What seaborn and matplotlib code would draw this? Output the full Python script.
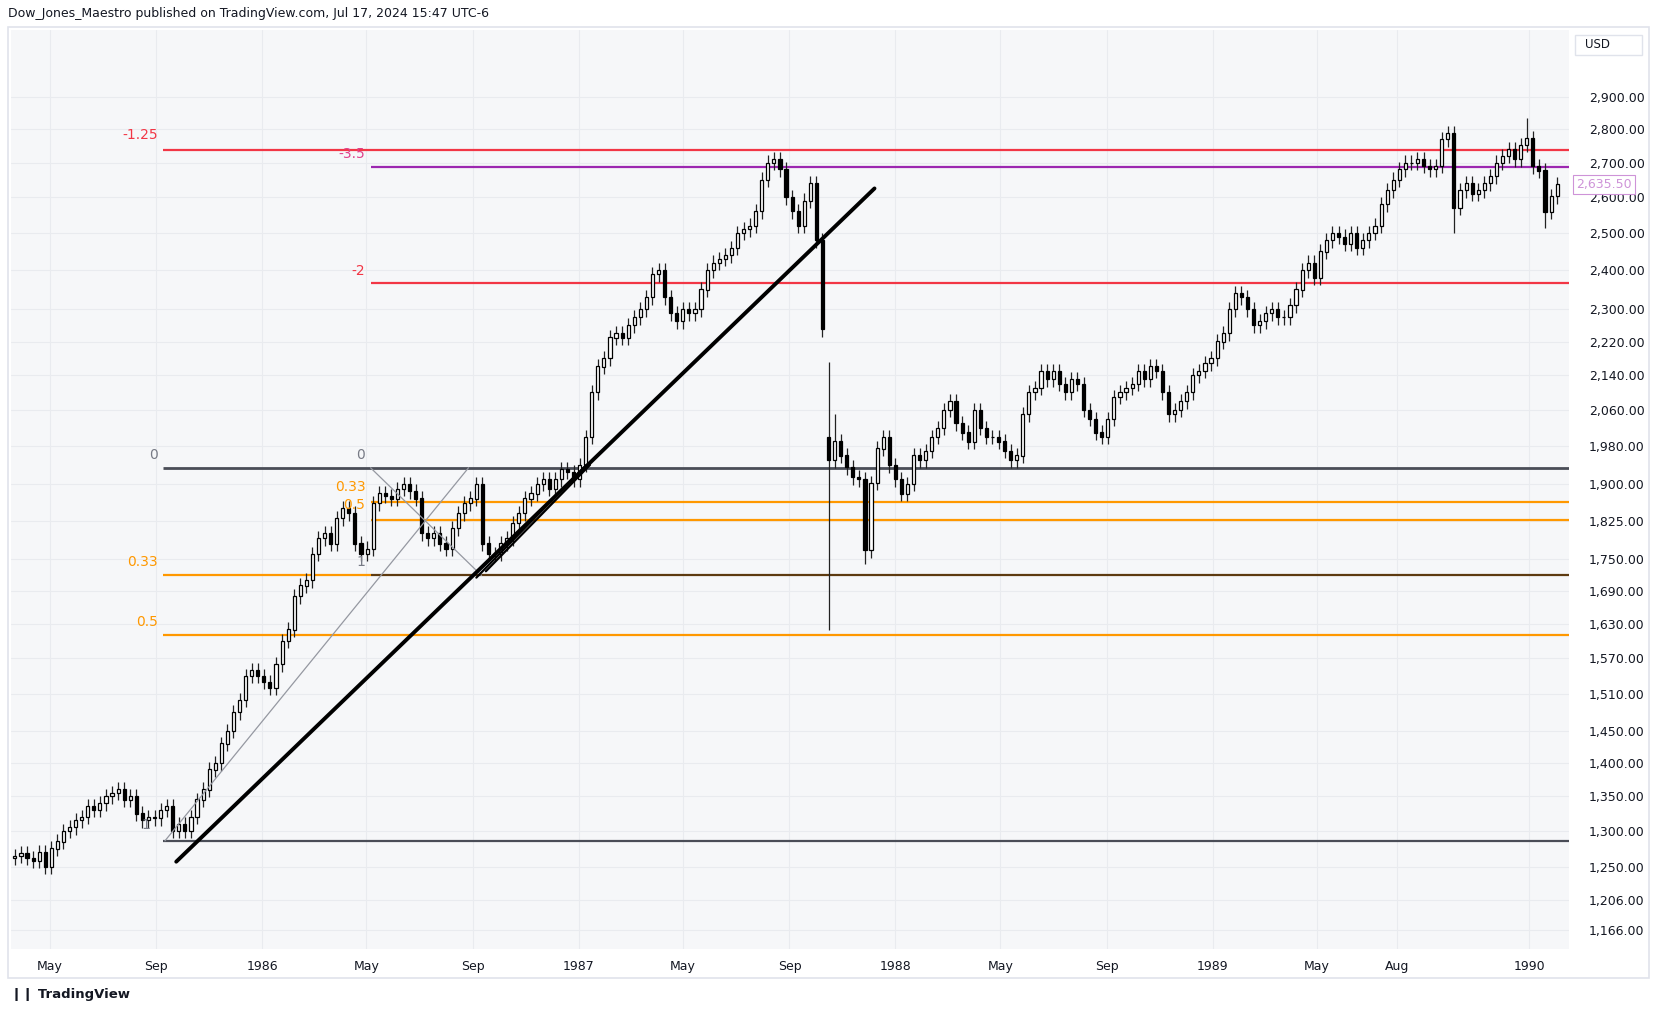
import numpy as np
import pandas as pd
import matplotlib
matplotlib.use("Agg")
import matplotlib.pyplot as plt
import matplotlib.dates as mdates
from matplotlib.ticker import FixedLocator, FixedFormatter, NullLocator
import seaborn as sns

# ---------------- data ----------------
first_open = 1262
closes_1985 = [1265, 1268, 1262, 1258, 1270, 1250, 1275,
               1285, 1300, 1305, 1315,
               1320, 1335, 1330, 1340,
               1350, 1355, 1360, 1345, 1350,
               1325, 1315, 1320, 1318,
               1330, 1335, 1300, 1310,
               1300, 1320, 1345, 1360,
               1390, 1400, 1430, 1450,
               1480, 1500, 1540, 1550, 1540]
closes_1986 = [1530, 1520, 1560, 1600,
               1620, 1680, 1700, 1710,
               1760, 1790, 1800, 1780, 1830,
               1850, 1840, 1780, 1760,
               1770, 1860, 1880, 1875,
               1870, 1890, 1900, 1885, 1870,
               1800, 1790, 1800, 1780, 1770,
               1810, 1840, 1860, 1870,
               1900, 1780, 1760, 1760,
               1780, 1790, 1820, 1840, 1870,
               1880, 1900, 1910, 1890,
               1910, 1930, 1925, 1910]
closes_1987 = [1940, 2000, 2100, 2160,
               2180, 2230, 2240, 2230,
               2260, 2280, 2300, 2330,
               2390, 2400, 2330, 2290, 2270,
               2300, 2290, 2300, 2350,
               2400, 2420, 2430, 2440,
               2460, 2500, 2510, 2520, 2560,
               2650, 2700, 2710, 2680,
               2600, 2560, 2520, 2590,
               2640, 2480, 2250, 1950, 1990,
               1960, 1935, 1914, 1910,
               1767, 1902, 1975, 1999, 1939]
closes_1988 = [1910, 1880, 1900, 1960,
               1950, 1970, 2000, 2020,
               2060, 2080, 2030, 2010, 1990,
               2060, 2020, 2000, 2000,
               1990, 1970, 1950, 1960,
               2050, 2100, 2110, 2150,
               2130, 2150, 2120, 2100, 2130,
               2120, 2060, 2040, 2010,
               2000, 2040, 2090, 2100, 2110,
               2120, 2150, 2130, 2160,
               2150, 2100, 2050, 2060,
               2080, 2100, 2140, 2150, 2168]
closes_1989 = [2180, 2220, 2240, 2300,
               2340, 2330, 2300, 2260,
               2270, 2290, 2300, 2280, 2280,
               2310, 2350, 2400, 2420,
               2380, 2450, 2480, 2500,
               2490, 2470, 2500, 2460, 2480,
               2500, 2520, 2580, 2620,
               2650, 2680, 2700, 2700,
               2710, 2690, 2680, 2690, 2770,
               2790, 2570, 2620, 2640,
               2610, 2620, 2640, 2660,
               2700, 2720, 2740, 2710, 2753]
closes_1990 = [2773, 2689, 2677, 2559, 2602, 2636]
closes = closes_1985 + closes_1986 + closes_1987 + closes_1988 + closes_1989 + closes_1990
dates = pd.date_range("1985-03-22", periods=len(closes), freq="W-FRI")

# gap opens / wick extremes that differ from the usual
open_override = {134: 2000}
high_override = {134: 2170, 135: 2050, 236: 2810, 237: 2810, 249: 2835}
low_override = {134: 1620, 140: 1740, 5: 1240, 237: 2500, 252: 2515}
wick_pct = 0.008

price_ticks = [1166, 1206, 1250, 1300, 1350, 1400, 1450, 1510, 1570, 1630, 1690,
               1750, 1825, 1900, 1980, 2060, 2140, 2220, 2300, 2400, 2500, 2600,
               2700, 2800, 2900]
time_tick_dates = ["1985-05-01", "1985-09-01", "1986-01-01", "1986-05-01", "1986-09-01",
                   "1987-01-01", "1987-05-01", "1987-09-01", "1988-01-01", "1988-05-01",
                   "1988-09-01", "1989-01-01", "1989-05-01", "1989-08-01", "1990-01-01"]
time_tick_labels = ["May", "Sep", "1986", "May", "Sep", "1987", "May", "Sep", "1988",
                    "May", "Sep", "1989", "May", "Aug", "1990"]

# horizontal levels
level_prices = [2737, 2687, 2366, 1934, 1862, 1826, 1719, 1719, 1610, 1286]
level_starts = ["1985-09-09", "1986-05-06", "1986-05-06", "1985-09-09", "1986-05-06",
                "1986-05-06", "1986-05-06", "1985-09-09", "1985-09-09", "1985-09-09"]
level_ends = [None, None, None, None, None, None, None, "1986-05-06", None, None]
level_colors = ["#f23645", "#9c27b0", "#f23645", "#4a4d57", "#ff9800", "#ff9800",
                "#5d3a10", "#ff9800", "#ff9800", "#4a4d57"]

label_texts = ["-1.25", "-3.5", "-2", "0", "0", "0.33", "0.5", "0.33", "0.5", "1", "1"]
label_prices = [2782, 2727, 2399, 1962, 1962, 1893, 1856, 1745, 1634, 1745, 1309]
label_dates = ["1985-09-03", "1986-04-30", "1986-04-30", "1985-09-03", "1986-04-30",
               "1986-04-30", "1986-04-30", "1985-09-03", "1985-09-03", "1986-04-30", "1985-08-25"]
label_colors = ["#f23645", "#e0408a", "#f23645", "#787b86", "#787b86", "#ff9800",
                "#ff9800", "#ff9800", "#ff9800", "#787b86", "#787b86"]

trend_dates = ["1985-09-24", "1987-12-08"]
trend_prices = [1257, 2625]
twin1_dates = ["1986-09-05", "1987-01-10"]
twin1_prices = [1715, 1940]
twin2_dates = ["1986-09-16", "1987-01-14"]
twin2_prices = [1727, 1940]
grey1_dates = ["1985-09-11", "1986-08-27"]
grey1_prices = [1286, 1934]
grey2_dates = ["1986-05-06", "1986-09-11"]
grey2_prices = [1934, 1719]

last_price = 2635.50

# ---------------- figure ----------------
sns.set_theme(style="white")
W, H = 1568, 956
fig = plt.figure(figsize=(16.57, 10.11), dpi=100)
fig.patch.set_facecolor("white")
ax = fig.add_axes([10 / W, 1 - 897 / H, (1485 - 10) / W, (897 - 28) / H])
ax.set_facecolor("#f6f7f9")

opens = [first_open] + closes[:-1]
for k, v in open_override.items():
    opens[k] = v
o = np.array(opens, float)
c = np.array(closes, float)
hi = np.maximum(o, c) * (1 + wick_pct)
lo = np.minimum(o, c) * (1 - wick_pct)
for k, v in high_override.items():
    hi[k] = v
for k, v in low_override.items():
    lo[k] = v

xd = mdates.date2num(dates)
ax.vlines(xd, lo, hi, color="#222222", linewidth=0.9, zorder=3)
up = c >= o
bw = 3.6
ax.bar(xd[up], (c - o)[up] + 0.5, bottom=o[up], width=bw, color="white",
       edgecolor="black", linewidth=0.9, zorder=4)
ax.bar(xd[~up], (o - c)[~up] + 0.5, bottom=c[~up], width=bw, color="black",
       edgecolor="black", linewidth=0.9, zorder=4)

ax.set_yscale("log")
ax.set_ylim(1143, 3123)
xmin = mdates.date2num(pd.Timestamp("1985-03-17"))
xmax = mdates.date2num(pd.Timestamp("1990-02-16"))
ax.set_xlim(xmin, xmax)

for p in price_ticks:
    ax.axhline(p, color="#e9ebef", linewidth=0.8, zorder=0)
tick_x = [mdates.date2num(pd.Timestamp(d)) for d in time_tick_dates]
for t in tick_x:
    ax.axvline(t, color="#e9ebef", linewidth=0.8, zorder=0)

for p, s, e, col in zip(level_prices, level_starts, level_ends, level_colors):
    x0 = mdates.date2num(pd.Timestamp(s))
    x1 = xmax if e is None else mdates.date2num(pd.Timestamp(e))
    lw = 2.0 if col == "#4a4d57" and p == 1934 else 1.6
    ax.plot([x0, x1], [p, p], color=col, linewidth=lw, zorder=2, solid_capstyle="butt")

for t, p, d, col in zip(label_texts, label_prices, label_dates, label_colors):
    ax.text(mdates.date2num(pd.Timestamp(d)), p, t, color=col, fontsize=10,
            ha="right", va="center", zorder=6)

def seg(ds, ps, **kw):
    ax.plot([mdates.date2num(pd.Timestamp(d)) for d in ds], ps, zorder=5, **kw)

seg(grey1_dates, grey1_prices, color="#9598a1", linewidth=0.9)
seg(grey2_dates, grey2_prices, color="#9598a1", linewidth=0.9)
seg(twin1_dates, twin1_prices, color="black", linewidth=1.6)
seg(twin2_dates, twin2_prices, color="black", linewidth=1.6)
seg(trend_dates, trend_prices, color="black", linewidth=2.8, solid_capstyle="round")

ax.yaxis.tick_right()
ax.yaxis.set_major_locator(FixedLocator(price_ticks))
ax.yaxis.set_major_formatter(FixedFormatter([f"{p:,.2f}" for p in price_ticks]))
ax.yaxis.set_minor_locator(NullLocator())
ax.xaxis.set_major_locator(FixedLocator(tick_x))
ax.xaxis.set_major_formatter(FixedFormatter(time_tick_labels))
ax.tick_params(axis="both", length=0, labelsize=9, colors="#131722")
ax.tick_params(axis="y", pad=14)
ax.tick_params(axis="x", pad=8)
for s in ax.spines.values():
    s.set_visible(False)

ax.annotate(f"{last_price:,.2f}", xy=(1.0, last_price), xycoords=("axes fraction", "data"),
            xytext=(5, 0), textcoords="offset points", fontsize=9, color="#ce93d8",
            va="center", ha="left",
            bbox=dict(boxstyle="square,pad=0.25", fc="white", ec="#ce93d8", lw=0.8))

fig.patches.append(plt.Rectangle((8 / W, 1 - 925 / H), (1560 - 8) / W, (925 - 26) / H,
                                 transform=fig.transFigure, fill=False,
                                 ec="#e0e3eb", lw=1.2))
fig.patches.append(plt.Rectangle((1490 / W, 1 - 52 / H), 64 / W, 19 / H,
                                 transform=fig.transFigure, fill=False,
                                 ec="#e0e3eb", lw=1.0))
fig.text(1500 / W, 1 - 42 / H, "USD", fontsize=8.5, color="#131722", va="center")
fig.text(8 / W, 1 - 13 / H,
         "Dow_Jones_Maestro published on TradingView.com, Jul 17, 2024 15:47 UTC-6",
         fontsize=9, color="#131722", va="center")
fig.text(10 / W, 1 - 940 / H, "\u2759\u2759 TradingView", fontsize=9.5, color="#131722",
         va="center", fontweight="bold")

fig.savefig("out.png", dpi=100)
